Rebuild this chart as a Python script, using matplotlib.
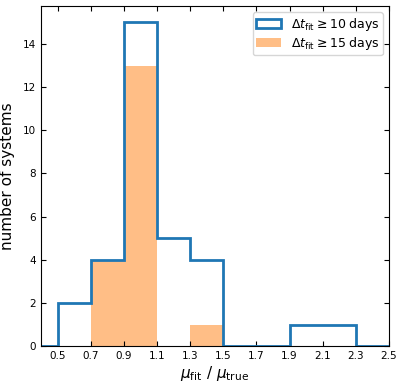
import numpy as np
import matplotlib
matplotlib.use("Agg")
import matplotlib.pyplot as plt

# histogram bin edges and counts
edges = [0.1, 0.3, 0.5, 0.7, 0.9, 1.1, 1.3, 1.5, 1.7, 1.9, 2.1, 2.3, 2.5, 2.7]
counts_10 = [0, 0, 2, 4, 15, 5, 4, 0, 0, 1, 1, 0, 0]
counts_15 = [0, 0, 0, 4, 13, 0, 1, 0, 0, 0, 0, 0, 0]
xticks = [0.5, 0.7, 0.9, 1.1, 1.3, 1.5, 1.7, 1.9, 2.1, 2.3, 2.5]

fig = plt.figure(figsize=(4.04, 3.85), dpi=100)
ax = fig.add_axes([0.1015, 0.101, 0.8615, 0.883])

centers = np.array(edges[:-1]) + 0.1
ax.hist(centers, bins=edges, weights=counts_10, histtype='step', color='C0',
        lw=2, label=r'$\Delta t_{\rm fit} \geq 10$ days')
ax.hist(centers, bins=edges, weights=counts_15, histtype='stepfilled',
        color='C1', alpha=0.5, lw=0, label=r'$\Delta t_{\rm fit} \geq 15$ days')

ax.set_xlim(0.4, 2.5)
ax.set_ylim(0, 15.75)
ax.set_xticks(xticks)
ax.set_xticklabels([f"{t:.1f}" for t in xticks])
ax.set_yticks([0, 2, 4, 6, 8, 10, 12, 14])
ax.tick_params(direction='in', top=True, right=True, labelsize=7.5)

ax.set_xlabel(r'$\mu_{\rm fit}$ / $\mu_{\rm true}$', fontsize=11, labelpad=2)
ax.set_ylabel('number of systems', fontsize=11, labelpad=6)

ax.legend(loc='upper right', fontsize=9, labelspacing=0.2, borderpad=0.25,
          borderaxespad=0.5)

fig.savefig('out.png', dpi=100)
